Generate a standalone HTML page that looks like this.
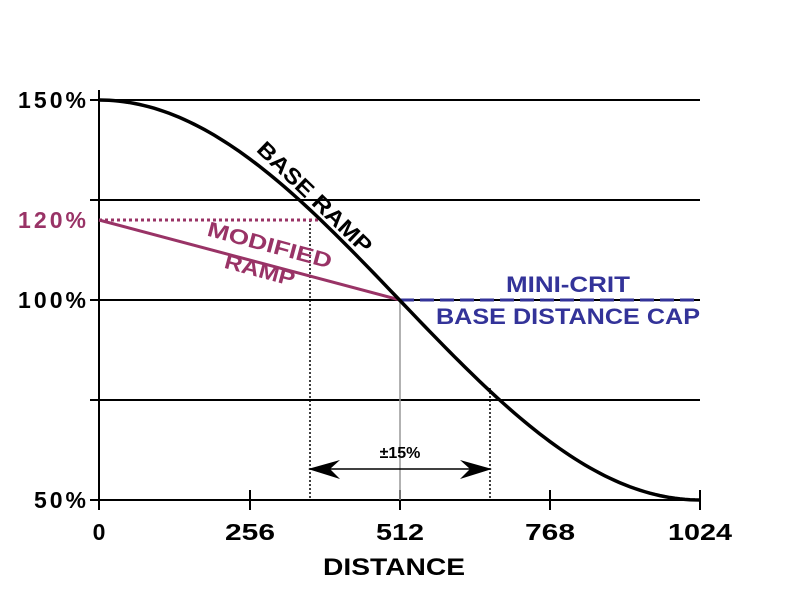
<!DOCTYPE html><html><head><style>body{margin:0;background:#fff}svg{display:block}text{font-family:"Liberation Sans",sans-serif;font-weight:bold}</style></head><body>
<svg width="800" height="600" xmlns="http://www.w3.org/2000/svg">
<g stroke="#000" stroke-width="2">
<line x1="90" y1="100" x2="700" y2="100"/><line x1="90" y1="200" x2="700" y2="200"/><line x1="90" y1="300" x2="700" y2="300"/><line x1="90" y1="400" x2="700" y2="400"/><line x1="90" y1="500" x2="700" y2="500"/>
<line x1="99" y1="90" x2="99" y2="510"/>
<line x1="250" y1="490" x2="250" y2="510"/><line x1="400" y1="490" x2="400" y2="510"/><line x1="550" y1="490" x2="550" y2="510"/><line x1="700" y1="490" x2="700" y2="510"/>
</g>
<line x1="400" y1="300" x2="400" y2="500" stroke="#999" stroke-width="1.5"/>
<g stroke="#000" stroke-width="1.5" stroke-dasharray="2,2"><line x1="310" y1="220" x2="310" y2="500"/><line x1="490" y1="388" x2="490" y2="500"/></g>
<line x1="99" y1="220" x2="320" y2="220" stroke="#993366" stroke-width="3" stroke-dasharray="3,3"/>
<line x1="99" y1="220" x2="400" y2="300" stroke="#993366" stroke-width="3"/>
<line x1="400" y1="300" x2="700" y2="300" stroke="#333399" stroke-width="3" stroke-dasharray="14,6"/>
<path id="c" fill="none" stroke="#000" stroke-width="3.5" d="M99,100"/>
<line x1="318" y1="469" x2="482" y2="469" stroke="#000" stroke-width="1.5"/>
<path d="M308,469 L340,460 L330,469 L340,479Z M492,469 L460,460 L470,469 L460,479Z" fill="#000"/>
<g font-size="23" text-anchor="end" lengthAdjust="spacingAndGlyphs"><text x="86" y="108" textLength="68">150%</text><text x="86" y="228" fill="#993366" textLength="68">120%</text><text x="86" y="308" textLength="68">100%</text><text x="86" y="508" textLength="52">50%</text></g>
<g font-size="23" text-anchor="middle"><text x="99" y="540">0</text><text x="250" y="540" textLength="50" lengthAdjust="spacingAndGlyphs">256</text><text x="400" y="540" textLength="48" lengthAdjust="spacingAndGlyphs">512</text><text x="550" y="540" textLength="50" lengthAdjust="spacingAndGlyphs">768</text><text x="700" y="540" textLength="64" lengthAdjust="spacingAndGlyphs">1024</text>
<text x="394" y="575" font-size="24" textLength="142" lengthAdjust="spacingAndGlyphs">DISTANCE</text>
<text x="400" y="458" font-size="16">±15%</text>
<text x="315" y="205" transform="rotate(44 315 197)" font-size="22" textLength="150" lengthAdjust="spacingAndGlyphs">BASE RAMP</text>
<text x="268" y="252" transform="rotate(15 268 252)" font-size="21" fill="#993366" textLength="128" lengthAdjust="spacingAndGlyphs">MODIFIED</text>
<text x="258" y="277" transform="rotate(15 258 277)" font-size="21" fill="#993366" textLength="72" lengthAdjust="spacingAndGlyphs">RAMP</text>
<text x="568" y="292" font-size="22" fill="#333399" textLength="124" lengthAdjust="spacingAndGlyphs">MINI-CRIT</text>
<text x="568" y="324" font-size="22" fill="#333399" textLength="264" lengthAdjust="spacingAndGlyphs">BASE DISTANCE CAP</text></g>
<script>
var d="M99,100";for(var i=1;i<=120;i++){var t=i/120;d+=" L"+(99+601*t).toFixed(2)+","+(300-200*Math.cos(Math.PI*t)).toFixed(2);}document.getElementById("c").setAttribute("d",d);
</script>
</svg></body></html>
